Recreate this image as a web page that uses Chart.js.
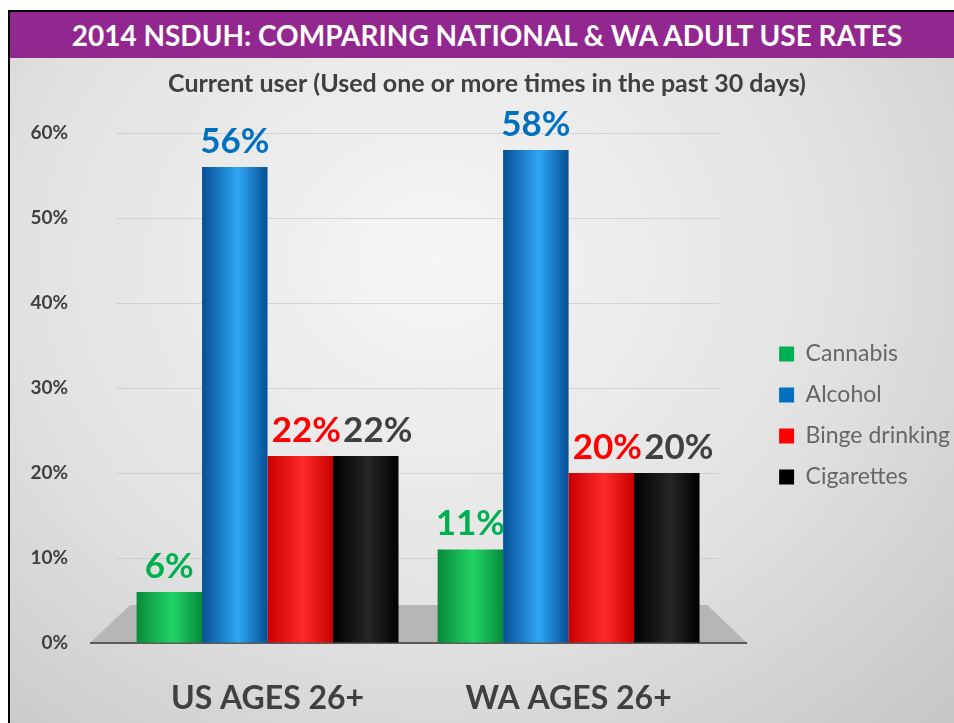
<!DOCTYPE html>
<html>
<head>
<meta charset="utf-8">
<script src="https://cdn.jsdelivr.net/npm/chart.js@4.4.0/dist/chart.umd.min.js"></script>
<style>
  html, body { margin: 0; padding: 0; background: #fff; }
  #slide {
    position: absolute; left: 8px; top: 10px; width: 946px; height: 713px;
    border-left: 2px solid #000; border-top: 2px solid #000; box-sizing: border-box;
    background: radial-gradient(ellipse at 45% 35%, #f6f6f6 0%, #e2e2e2 55%, #c6c6c6 100%);
    overflow: hidden;
  }
  #header {
    height: 46px; background: #92278f; color: #fff;
    font: bold 28px Lato, sans-serif; text-align: center; line-height: 46px;
    padding-left: 10px;
  }
  #wrap { position: relative; width: 944px; height: 665px; }
</style>
</head>
<body>
<div id="slide">
  <div id="header">2014 NSDUH: COMPARING NATIONAL &amp; WA ADULT USE RATES</div>
  <div id="wrap"><canvas id="chart"></canvas></div>
</div>
<script>
const categories = ['US AGES 26+', 'WA AGES 26+'];
const cannabis = [6, 11];
const alcohol = [56, 58];
const binge = [22, 20];
const cigarettes = [22, 20];
const yTicks = [0, 10, 20, 30, 40, 50, 60];

const textGray = '#404040';
const CAT_PCT = 0.87;
const LEGEND_GAP = 36;   // right padding kept free between plot and legend
const LEGEND_SHIFT = 42; // how far the legend is pushed right into it

// edge, highlight colours for the cylinder look
const seriesStyle = [
  { label: 'Cannabis', data: cannabis, key: '#00b050', edge: '#078a3a', light: '#22d466', text: '#00b050' },
  { label: 'Alcohol', data: alcohol, key: '#0070c0', edge: '#064f95', light: '#2ea6f4', text: '#0070c0' },
  { label: 'Binge drinking', data: binge, key: '#ff0000', edge: '#c80000', light: '#ff2a2a', text: '#ff0000' },
  { label: 'Cigarettes', data: cigarettes, key: '#000000', edge: '#000000', light: '#262626', text: '#404040' }
];

function cylinder(ctx, s) {
  const chart = ctx.chart;
  const x = chart.scales.x;
  if (!x || !chart.chartArea) return s.key;
  const catW = (chart.chartArea.right - chart.chartArea.left) / categories.length;
  const groupW = catW * CAT_PCT;
  const barW = groupW / seriesStyle.length;
  const cx = x.getPixelForTick(ctx.dataIndex) - groupW / 2 + barW * ctx.datasetIndex;
  const g = chart.ctx.createLinearGradient(cx, 0, cx + barW, 0);
  g.addColorStop(0, s.edge);
  g.addColorStop(0.55, s.light);
  g.addColorStop(1, s.edge);
  return g;
}

// legend and title moved into the right padding
const layoutShift = {
  id: 'layoutShift',
  afterLayout(chart) {
    chart.legend.left += LEGEND_SHIFT;
    chart.legend.right += LEGEND_SHIFT;
    chart.titleBlock.left += LEGEND_GAP / 2;
    chart.titleBlock.right += LEGEND_GAP / 2;
  }
};

const floorPlugin = {
  id: 'floor',
  beforeDatasetsDraw(chart) {
    const a = chart.chartArea, c = chart.ctx;
    c.save();
    c.fillStyle = '#b6b6b6';
    c.beginPath();
    c.moveTo(a.left - 27, a.bottom);
    c.lineTo(a.right + 28, a.bottom);
    c.lineTo(a.right - 12, a.bottom - 38);
    c.lineTo(a.left + 13, a.bottom - 38);
    c.closePath();
    c.fill();
    c.strokeStyle = '#5a5a5a';
    c.lineWidth = 2;
    c.beginPath();
    c.moveTo(a.left - 27, a.bottom);
    c.lineTo(a.right + 28, a.bottom);
    c.stroke();
    c.restore();
  }
};

const valueLabels = {
  id: 'valueLabels',
  afterDatasetsDraw(chart) {
    const c = chart.ctx;
    c.save();
    c.font = 'bold 35px Lato, sans-serif';
    c.textAlign = 'center';
    c.textBaseline = 'bottom';
    chart.data.datasets.forEach((ds, i) => {
      chart.getDatasetMeta(i).data.forEach((bar, j) => {
        c.fillStyle = seriesStyle[i].text;
        c.fillText(ds.data[j] + '%', bar.x + (i === 2 ? 6 : i === 3 ? 12 : 0), bar.y - 8);
      });
    });
    c.restore();
  }
};

function draw() {
  new Chart(document.getElementById('chart'), {
    type: 'bar',
    data: {
      labels: categories,
      datasets: seriesStyle.map(s => ({
        label: s.label,
        data: s.data,
        backgroundColor: ctx => cylinder(ctx, s),
        borderWidth: 0,
        categoryPercentage: CAT_PCT,
        barPercentage: 1.0
      }))
    },
    options: {
      responsive: true,
      maintainAspectRatio: false,
      animation: false,
      layout: { padding: { left: 10, right: LEGEND_GAP, top: 0, bottom: 0 } },
      plugins: {
        title: {
          display: true,
          text: 'Current user (Used one or more times in the past 30 days)',
          color: textGray,
          font: { family: 'Lato, sans-serif', size: 25, weight: 'bold' },
          padding: { top: 11, bottom: 34 }
        },
        legend: {
          position: 'right',
          title: { display: true, text: ' ', font: { size: 10 }, padding: { top: 38, bottom: 0 } },
          labels: {
            color: textGray,
            font: { family: 'Lato, sans-serif', size: 23 },
            boxWidth: 15,
            boxHeight: 15,
            padding: 18,
            generateLabels: () => seriesStyle.map((s, i) => ({
              text: s.label, fillStyle: s.key, strokeStyle: s.key, lineWidth: 0, datasetIndex: i
            }))
          }
        },
        tooltip: { enabled: false }
      },
      scales: {
        x: {
          grid: { display: false },
          border: { display: false },
          ticks: {
            color: textGray,
            font: { family: 'Lato, sans-serif', size: 32, weight: 'bold' },
            padding: 28
          },
          afterFit: s => { s.height = 80; }
        },
        y: {
          min: yTicks[0],
          max: yTicks[yTicks.length - 1],
          afterBuildTicks: s => { s.ticks = yTicks.map(v => ({ value: v })); },
          grid: { color: 'rgba(190,190,190,0.55)', drawTicks: false },
          border: { display: false },
          ticks: {
            color: textGray,
            font: { family: 'Lato, sans-serif', size: 19, weight: 'bold' },
            padding: 49,
            callback: v => v + '%'
          },
          afterFit: s => { s.width = 97; }
        }
      }
    },
    plugins: [layoutShift, floorPlugin, valueLabels]
  });
}

Promise.all([
  document.fonts.load('22px Lato'),
  document.fonts.load('bold 22px Lato')
]).then(draw, draw);
</script>
</body>
</html>
